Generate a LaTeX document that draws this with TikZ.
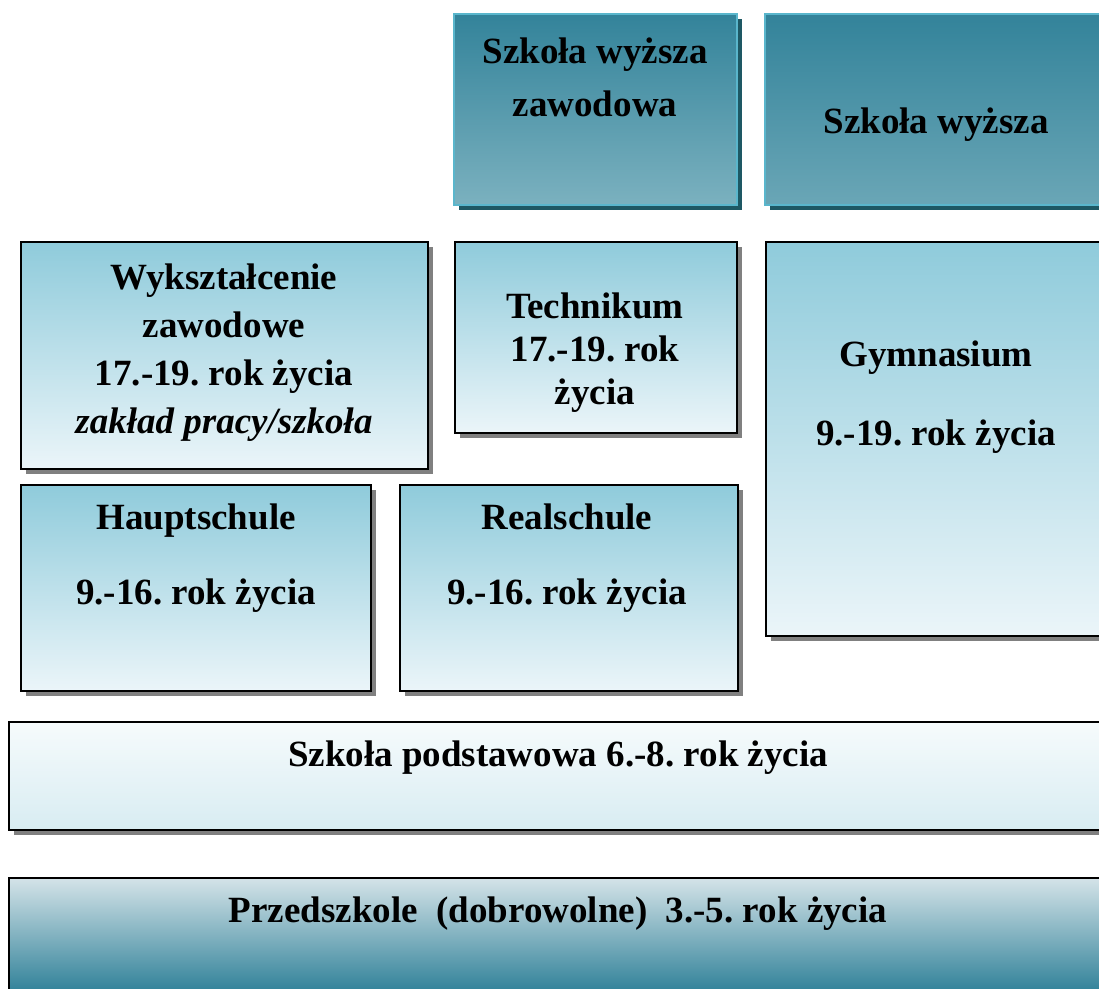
\documentclass[tikz,border=0pt]{standalone}
\usepackage{fontspec}
\setmainfont{Liberation Serif}
\usetikzlibrary{shadows}
\frenchspacing

\definecolor{tealtop}{RGB}{51,131,154}
\definecolor{tealbot}{RGB}{123,177,191}
\definecolor{tealbotb}{RGB}{106,166,182}
\definecolor{tealline}{RGB}{90,182,204}
\definecolor{tealshadow}{RGB}{30,88,100}
\definecolor{boxtop}{RGB}{143,203,219}
\definecolor{boxbot}{RGB}{235,245,249}
\definecolor{shgray}{RGB}{128,128,128}
\definecolor{basetop}{RGB}{246,251,252}
\definecolor{basebot}{RGB}{216,236,242}
\definecolor{pretop}{RGB}{212,227,232}
\definecolor{premid}{RGB}{176,201,209}

\tikzset{
  plainbox/.style={rectangle, anchor=north west, inner sep=0pt, outer sep=0pt},
  box/.style={plainbox, draw=black, line width=1.5pt, top color=boxtop, bottom color=boxbot,
    drop shadow={shadow xshift=5pt, shadow yshift=-5pt, fill=shgray, opacity=1}},
  topbox/.style={plainbox, draw=tealline, line width=2pt, top color=tealtop, bottom color=tealbot,
    drop shadow={shadow xshift=5pt, shadow yshift=-5pt, fill=tealshadow, opacity=1}},
  txt/.style={font=\bfseries\fontsize{37}{48}\selectfont, align=center, inner sep=0pt}
}

\begin{document}
\begin{tikzpicture}[x=1pt,y=1pt,yscale=-1]
\useasboundingbox (0,0) rectangle (1099,988);

%top row: Hochschulen
\node[topbox, minimum width=283, minimum height=191] (wsz) at (454,14) {};
\node[topbox, bottom color=tealbotb, minimum width=345, minimum height=191] (sw) at (765,14) {};

%middle rows
\node[box, minimum width=407, minimum height=227] (wyk) at (21,242) {};
\node[box, minimum width=282, minimum height=191] (tech) at (455,242) {};
\node[box, minimum width=345, minimum height=394] (gym) at (766,242) {};
\node[box, minimum width=350, minimum height=206] (haupt) at (21,485) {};
\node[box, minimum width=338, minimum height=206] (real) at (400,485) {};

%bottom rows
\node[box, top color=basetop, bottom color=basebot, minimum width=1100, minimum height=108] (podst) at (9,722) {};
\node[box, top color=pretop, middle color=premid, bottom color=tealtop, minimum width=1100, minimum height=112] (przed) at (9,878) {};

% Text Nodes
\node[txt, font=\bfseries\fontsize{37}{53}\selectfont] (wsz-t) at (595,77) {Szkoła wyższa\\zawodowa};
\node[txt] (sw-t) at (936,125) {Szkoła wyższa};
\node[txt] (wyk-t) at (224,353) {Wykształcenie\\zawodowe\\17.-19. rok życia\\\textit{zakład pracy/szkoła}};
\node[txt, font=\bfseries\fontsize{37}{43}\selectfont] (tech-t) at (595,353) {Technikum\\17.-19. rok\\życia};
\node[txt, font=\bfseries\fontsize{37}{79}\selectfont] (gym-t) at (936,397) {Gymnasium\\9.-19. rok życia};
\node[txt, font=\bfseries\fontsize{37}{75}\selectfont] (haupt-t) at (196,558) {Hauptschule\\9.-16. rok życia};
\node[txt, font=\bfseries\fontsize{37}{75}\selectfont] (real-t) at (567,558) {Realschule\\9.-16. rok życia};
\node[txt] (podst-t) at (558,758) {Szkoła podstawowa 6.-8. rok życia};
\node[txt] (przed-t) at (558,914) {Przedszkole\ \ (dobrowolne)\ \ 3.-5. rok życia};

\end{tikzpicture}
\end{document}
